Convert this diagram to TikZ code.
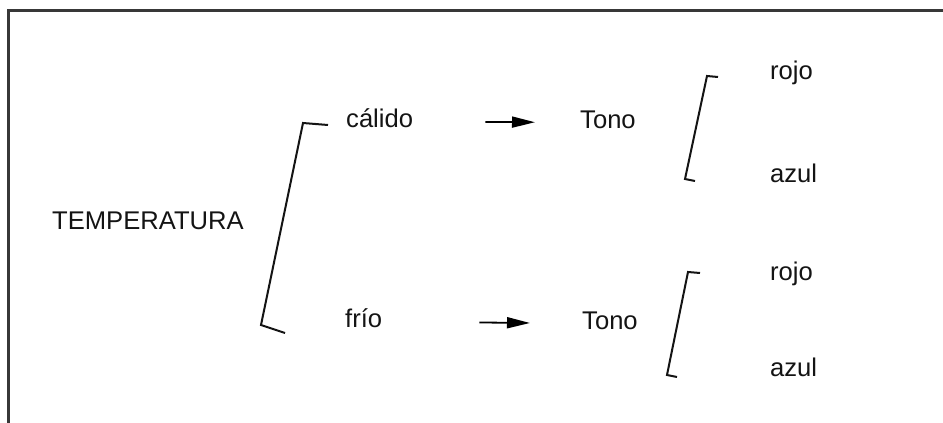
\documentclass[tikz,border=0pt]{standalone}
\usepackage{fontspec}
\setmainfont{Liberation Sans}
\usetikzlibrary{arrows.meta}
\begin{document}
\begin{tikzpicture}[x=1pt,y=-1pt,
  lbl/.style={anchor=base west,inner sep=0pt,text height=16pt,text depth=5pt,
    font=\fontsize{25.6}{30}\selectfont,text=black!92},
  brk/.style={line width=2pt,draw=black!92,line join=miter},
  frame/.style={line width=3pt,draw=black!78},
  arr/.style={line width=1.8pt,draw=black,-{Triangle[length=23pt,width=11pt]}}]
\useasboundingbox (0,0) rectangle (943,423);
\fill[white] (0,0) rectangle (943,423);
\draw[frame] (8,424) -- (8,10) -- (944,10);
\node[lbl] (temp) at (52,229) {TEMPERATURA};
\node[lbl] (calido) at (346,127) {cálido};
\node[lbl] (frio) at (345,327) {frío};
\node[lbl] (tono1) at (580,128) {Tono};
\node[lbl] (tono2) at (582,329) {Tono};
\node[lbl] (rojo1) at (770,79) {rojo};
\node[lbl] (azul1) at (770,182) {azul};
\node[lbl] (rojo2) at (770,280) {rojo};
\node[lbl] (azul2) at (770,376) {azul};
\draw[arr,shorten <=72pt,shorten >=45pt] (calido.east) -- (tono1.west);
\draw[arr,shorten <=97pt,shorten >=52pt] (frio.east) -- (tono2.west);
\draw[brk] (328,125) -- (303,123) -- (261,325) -- (285,333);
\draw[brk] (718,77) -- (707,76) -- (685,179) -- (695,181);
\draw[brk] (700,273) -- (688,272) -- (667,375) -- (677,377);
\end{tikzpicture}
\end{document}
